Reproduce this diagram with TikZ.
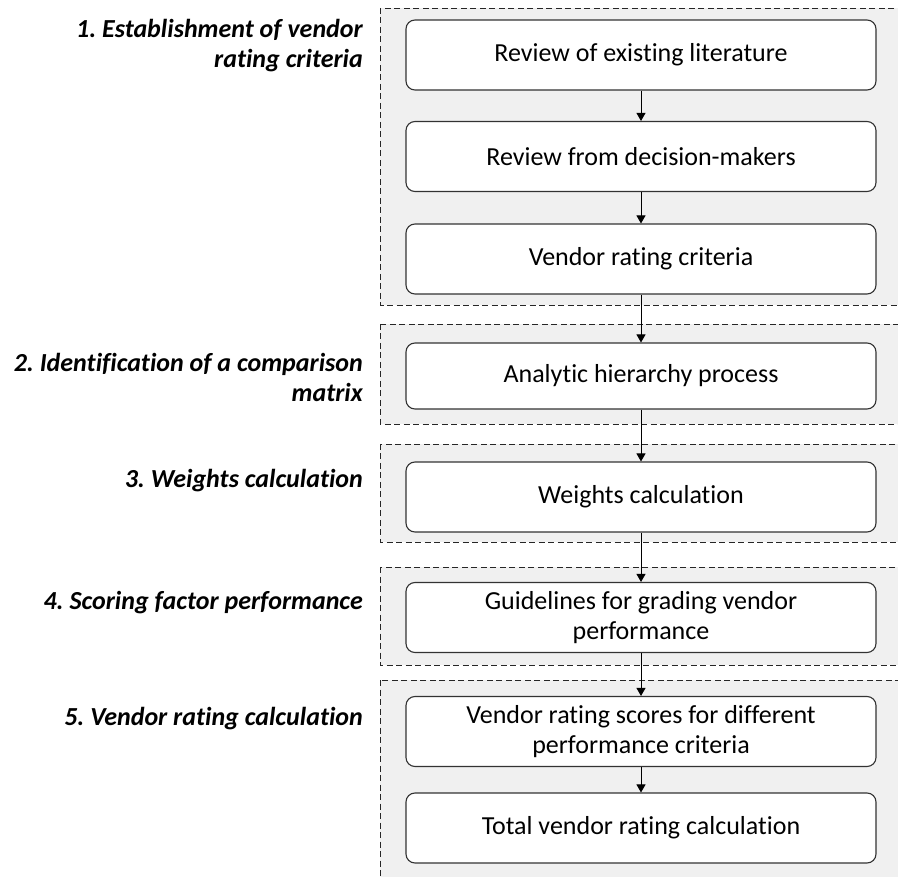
\documentclass[tikz,border=0pt]{standalone}
\usepackage{fontspec}
\setmainfont[Ligatures=NoCommon]{Carlito}
\usetikzlibrary{arrows.meta}
\frenchspacing
\begin{document}
\begin{tikzpicture}[x=1pt,y=-1pt,
  stagebox/.style={draw=black!80, fill=white, rounded corners=9pt, line width=1.1pt,
    minimum width=470pt, minimum height=70pt, align=center, inner sep=2pt,
    font=\fontsize{26}{30}\selectfont},
  panel/.style={draw=black!85, fill=black!6, dash pattern=on 6pt off 3.5pt, line width=0.9pt},
  phase/.style={anchor=east, align=right, inner sep=0pt,
    font=\fontsize{26}{30}\selectfont\bfseries\itshape},
  flow/.style={-{Triangle[length=8pt,width=9pt]}, line width=0.9pt}]
\useasboundingbox (0,0) rectangle (898,877);
\clip (0,0) rectangle (898,877);

% phase panels (open to the right and at the bottom)
\draw[panel] (380,8)   rectangle (910,305);
\draw[panel] (380,324) rectangle (910,424);
\draw[panel] (380,444) rectangle (910,542);
\draw[panel] (380,567) rectangle (910,665);
\draw[panel] (380,680) rectangle (910,895);

% phase titles
\node[phase] (p1) at (363,46)  {1. Establishment of vendor\\rating criteria};
\node[phase] (p2) at (363,377) {2. Identification of a comparison\\matrix};
\node[phase] (p3) at (363,481) {3. Weights calculation};
\node[phase] (p4) at (363,603) {4. Scoring factor performance};
\node[phase] (p5) at (363,719) {5. Vendor rating calculation};

% process steps
\node[stagebox] (b1) at (641,55)    {Review of existing literature};
\node[stagebox] (b2) at (641,156.5) {Review from decision-makers};
\node[stagebox] (b3) at (641,259)   {Vendor rating criteria};
\node[stagebox, minimum height=66pt] (b4) at (641,376) {Analytic hierarchy process};
\node[stagebox] (b5) at (641,497)   {Weights calculation};
\node[stagebox] (b6) at (641,617.5) {Guidelines for grading vendor\\performance};
\node[stagebox] (b7) at (641,731.5) {Vendor rating scores for different\\performance criteria};
\node[stagebox] (b8) at (641,828)   {Total vendor rating calculation};

% flow between steps
\foreach \a/\b in {b1/b2,b2/b3,b3/b4,b4/b5,b5/b6,b6/b7,b7/b8}
  \draw[flow] (\a) -- (\b);
\end{tikzpicture}
\end{document}
